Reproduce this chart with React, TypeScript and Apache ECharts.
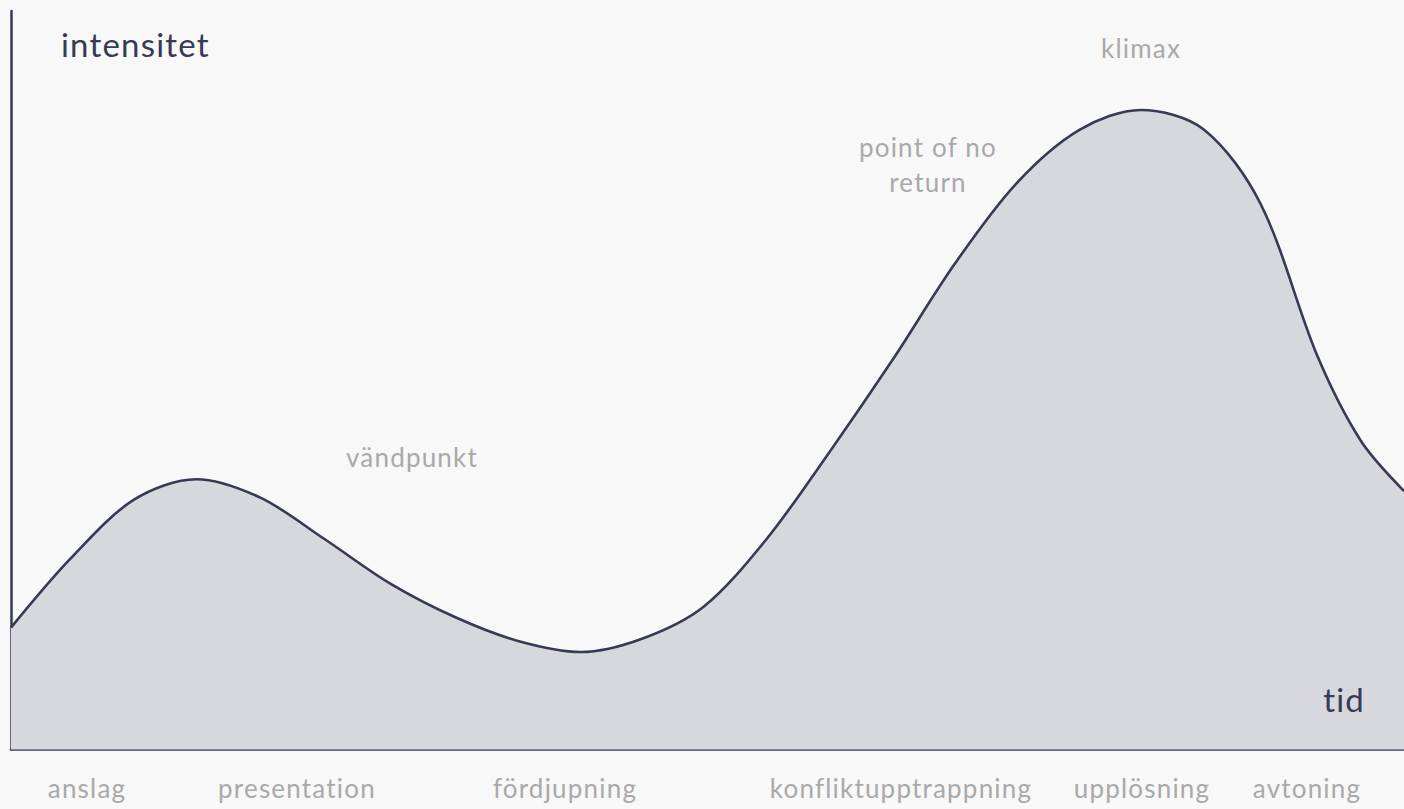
import React, { useEffect, useRef } from "react";
import * as echarts from "echarts";

// time (0..100) along the story
const timeValues = [0, 4.2, 8.8, 13.3, 17.9, 22.5, 27.2, 31.9, 36.4, 40.9, 45.3, 49.7, 54.2, 58.8, 63.3, 67.8, 72.2, 76.7, 81.1, 85.6, 89.7, 93.8, 96.9, 100];
// intensity (0..100)
const intensityValues = [16.5, 25.7, 33.8, 36.6, 34.1, 28.5, 22.5, 17.9, 14.7, 13.2, 15.0, 19.3, 28.4, 40.4, 52.8, 65.9, 76.7, 83.9, 86.6, 84.0, 73.9, 53.2, 41.8, 35.0];

const phaseLabels = ["anslag", "presentation", "fördjupning", "konfliktupptrappning", "upplösning", "avtoning"];
const annotationLabels = ["vändpunkt", "point of no\nreturn", "klimax"];
const axisTitles = ["intensitet", "tid"];

const DARK = "#363a53";
const GRAY = "#a9a9a9";
const FONT = "Lato, 'Open Sans', sans-serif";

export default function App() {
  const ref = useRef<HTMLDivElement>(null);
  useEffect(() => {
    if (!ref.current) return;
    const chart = echarts.init(ref.current, null, { renderer: "svg" });
    const data = timeValues.map((t, i) => [t, intensityValues[i]]);
    const phaseX = [87, 297, 565, 901, 1142, 1307];
    const gray = (text: string, x: number, y: number) => ({
      type: "text",
      x,
      y,
      z: 100,
      style: { text, fill: GRAY, font: `26px ${FONT}`, align: "center", verticalAlign: "middle", lineHeight: 35 },
    });
    const graphicTexts: any[] = phaseLabels.map((label, i) => gray(label, phaseX[i], 788));
    graphicTexts.push(
      gray(annotationLabels[0], 412, 457),
      gray(annotationLabels[1], 928, 164),
      gray(annotationLabels[2], 1141, 48),
      { type: "text", x: 61, y: 44, z: 100, style: { text: axisTitles[0], fill: DARK, font: `33px ${FONT}`, align: "left", verticalAlign: "middle" } },
      { type: "text", x: 1365, y: 699, z: 100, style: { text: axisTitles[1], fill: DARK, font: `33px ${FONT}`, align: "right", verticalAlign: "middle" } }
    );
    chart.setOption({
      animation: false,
      backgroundColor: "#f8f8f8",
      grid: { left: 11, right: 0, top: 11, bottom: 59.5, containLabel: false },
      xAxis: {
        type: "value",
        min: 0,
        max: 100,
        axisLine: { show: true, onZero: false, lineStyle: { color: DARK, width: 2.5 } },
        axisTick: { show: false },
        axisLabel: { show: false },
        splitLine: { show: false },
      },
      yAxis: {
        type: "value",
        min: 0,
        max: 100,
        axisLine: { show: true, onZero: false, lineStyle: { color: DARK, width: 2.5 } },
        axisTick: { show: false },
        axisLabel: { show: false },
        splitLine: { show: false },
      },
      series: [
        {
          type: "line",
          data,
          smooth: 0.32,
          showSymbol: false,
          symbol: "none",
          lineStyle: { color: DARK, width: 2.6 },
          areaStyle: { color: "#d7d8de", opacity: 1 },
          z: 1,
        },
      ],
      graphic: graphicTexts,
    });
    return () => chart.dispose();
  }, []);
  return (
    <div
      ref={ref}
      style={{ width: 1404, height: 809, position: "absolute", left: 0, top: 0, letterSpacing: "1.2px" }}
    />
  );
}
